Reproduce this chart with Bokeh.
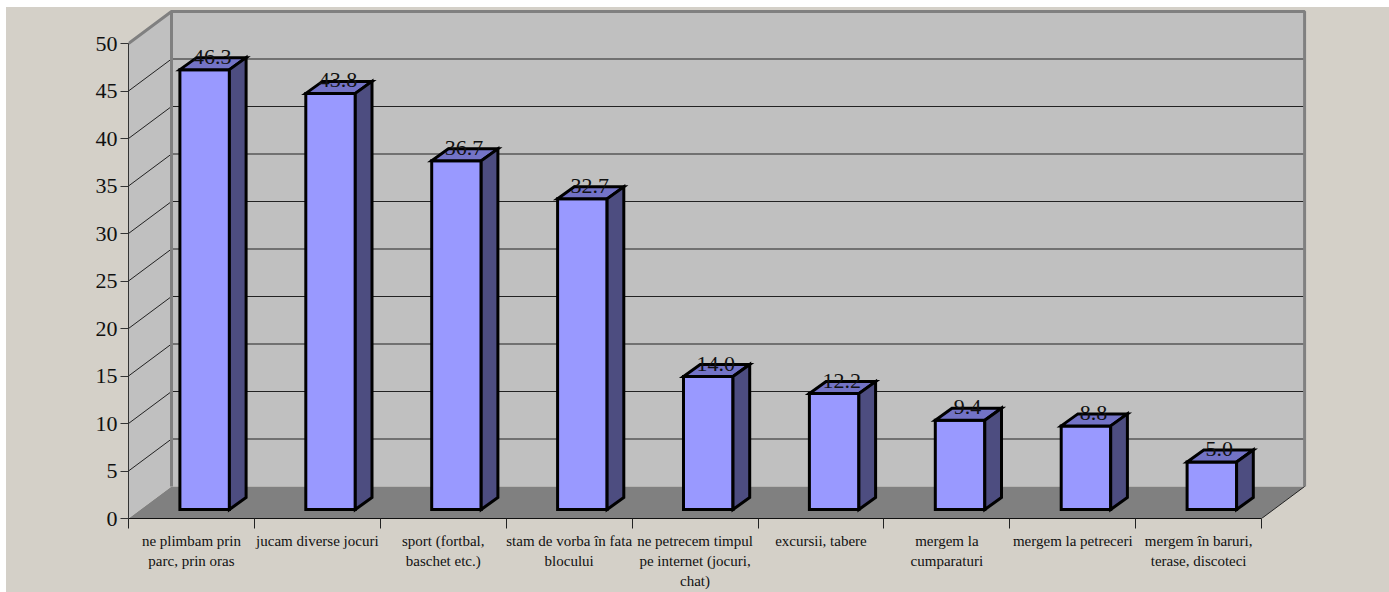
from bokeh.plotting import figure
from bokeh.embed import file_html
from bokeh.resources import INLINE
from bokeh.models import FixedTicker, Range1d, InlineStyleSheet
from bokeh.core.properties import value

# --- data -------------------------------------------------------------
category_lines = [
    ["ne plimbam prin", "parc, prin oras"],
    ["jucam diverse jocuri"],
    ["sport (fortbal,", "baschet etc.)"],
    ["stam de vorba în fata", "blocului"],
    ["ne petrecem timpul", "pe internet (jocuri,", "chat)"],
    ["excursii, tabere"],
    ["mergem la", "cumparaturi"],
    ["mergem la petreceri"],
    ["mergem în baruri,", "terase, discoteci"],
]
values = [46.3, 43.8, 36.7, 32.7, 14.0, 12.2, 9.4, 8.8, 5.0]
y_ticks = [0, 5, 10, 15, 20, 25, 30, 35, 40, 45, 50]

# --- style / geometry constants ---------------------------------------
FONT = "Liberation Serif"
BG = "#D4D0C8"
WALL = "#C0C0C0"
FLOOR = "#808080"
FRONT = "#9999FF"
TOP = "#7373C6"
SIDE = "#4D4D80"
PX_X, PX_Y = 125.9, 9.5
WALL_DX, WALL_DY = 43 / PX_X, 32 / PX_Y
BAR_W, BAR_SHIFT = 49.5 / PX_X, 13.2 / PX_X
BAR_DX, BAR_DY = 16.7 / PX_X, 12 / PX_Y
BASE = 9 / PX_Y
N = len(values)

W, H = 1383, 585
FRAME_W, FRAME_H = 1184, 511
L, T, R, B = 122, 0, 77, 74

p = figure(width=W, height=H, output_backend="svg", toolbar_location=None,
           frame_width=FRAME_W, frame_height=FRAME_H,
           x_range=Range1d(0, FRAME_W / PX_X),
           y_range=Range1d(0, FRAME_H / PX_Y),
           min_border_left=L, min_border_right=R, min_border_top=T, min_border_bottom=B,
           background_fill_color=None, border_fill_color=None, outline_line_color=None)
p.stylesheets = [InlineStyleSheet(css=":host{position:fixed !important;left:6px;top:7px;background:%s;}" % BG)]
p.grid.visible = False

# floor + walls
top_v = y_ticks[-1]
p.patch([0, WALL_DX, N + WALL_DX, N], [0, WALL_DY, WALL_DY, 0], fill_color=FLOOR, line_color=None)
p.patch([0, WALL_DX, WALL_DX, 0], [0, WALL_DY, top_v + WALL_DY, top_v], fill_color=WALL, line_color=None)
p.patch([WALL_DX, N + WALL_DX, N + WALL_DX, WALL_DX],
        [WALL_DY, WALL_DY, top_v + WALL_DY, top_v + WALL_DY], fill_color=WALL, line_color=None)

# gridlines
grid_v = y_ticks[1:-1]
p.segment([WALL_DX] * len(grid_v), [v + WALL_DY for v in grid_v],
          [N + WALL_DX] * len(grid_v), [v + WALL_DY for v in grid_v], line_color="#222222", line_width=1)
p.segment([0] * len(grid_v), grid_v, [WALL_DX] * len(grid_v), [v + WALL_DY for v in grid_v],
          line_color="#222222", line_width=1)

# wall borders
p.line([0, WALL_DX, N + WALL_DX, N + WALL_DX],
       [top_v, top_v + WALL_DY, top_v + WALL_DY, WALL_DY], line_color=FLOOR, line_width=3)
p.line([WALL_DX, WALL_DX], [WALL_DY, top_v + WALL_DY], line_color=FLOOR, line_width=3)
p.line([N, N + WALL_DX], [0, WALL_DY], line_color="#222222", line_width=1)

# bars
xl = [i + 0.5 + BAR_SHIFT - BAR_W / 2 for i in range(N)]
xr = [x + BAR_W for x in xl]
yt = [BASE + v for v in values]
kw = dict(line_color="black", line_width=3, line_join="miter")
p.patches([[a, b, b, a] for a, b in zip(xl, xr)], [[BASE, BASE, t, t] for t in yt], fill_color=FRONT, **kw)
p.patches([[a, b, b + BAR_DX, a + BAR_DX] for a, b in zip(xl, xr)],
          [[t, t, t + BAR_DY, t + BAR_DY] for t in yt], fill_color=TOP, **kw)
p.patches([[b, b + BAR_DX, b + BAR_DX, b] for b in xr],
          [[BASE, BASE + BAR_DY, t + BAR_DY, t] for t in yt], fill_color=SIDE, **kw)

# value labels
p.text([(a + b) / 2 for a, b in zip(xl, xr)], yt, text=[f"{v:.1f}" for v in values],
       text_font=value(FONT), text_font_size="22px", text_color="#111111",
       text_align="center", text_baseline="middle", x_offset=7.5, y_offset=-13)

# axes
ya = p.yaxis[0]
ya.ticker = FixedTicker(ticks=y_ticks)
ya.bounds = (0, top_v)
ya.major_label_text_font = FONT
ya.major_label_text_font_size = "22px"
ya.major_label_text_color = "#111111"
ya.major_label_standoff = 3
ya.major_tick_in = 0
ya.major_tick_out = 8
ya.minor_tick_out = 0
ya.minor_tick_in = 0
ya.axis_line_color = "#333333"
ya.major_tick_line_color = "#333333"

# category labels sit on the major ticks (length 0); the visible ticks are minor
centres = [i + 0.5 for i in range(N)]
xa = p.xaxis[0]
xa.ticker = FixedTicker(ticks=centres, minor_ticks=list(range(N + 1)))
xa.bounds = (0, N)
xa.major_label_overrides = {c: "\n".join(ls) for c, ls in zip(centres, category_lines)}
xa.major_label_text_font = FONT
xa.major_label_text_font_size = "15px"
xa.major_label_text_color = "#111111"
xa.major_label_text_line_height = 1.26
xa.major_label_standoff = 4
xa.major_tick_in = 0
xa.major_tick_out = 0
xa.minor_tick_in = 0
xa.minor_tick_out = 10
xa.axis_line_color = "#111111"
xa.minor_tick_line_color = "#222222"

open("out.html", "w").write(file_html(p, INLINE))
